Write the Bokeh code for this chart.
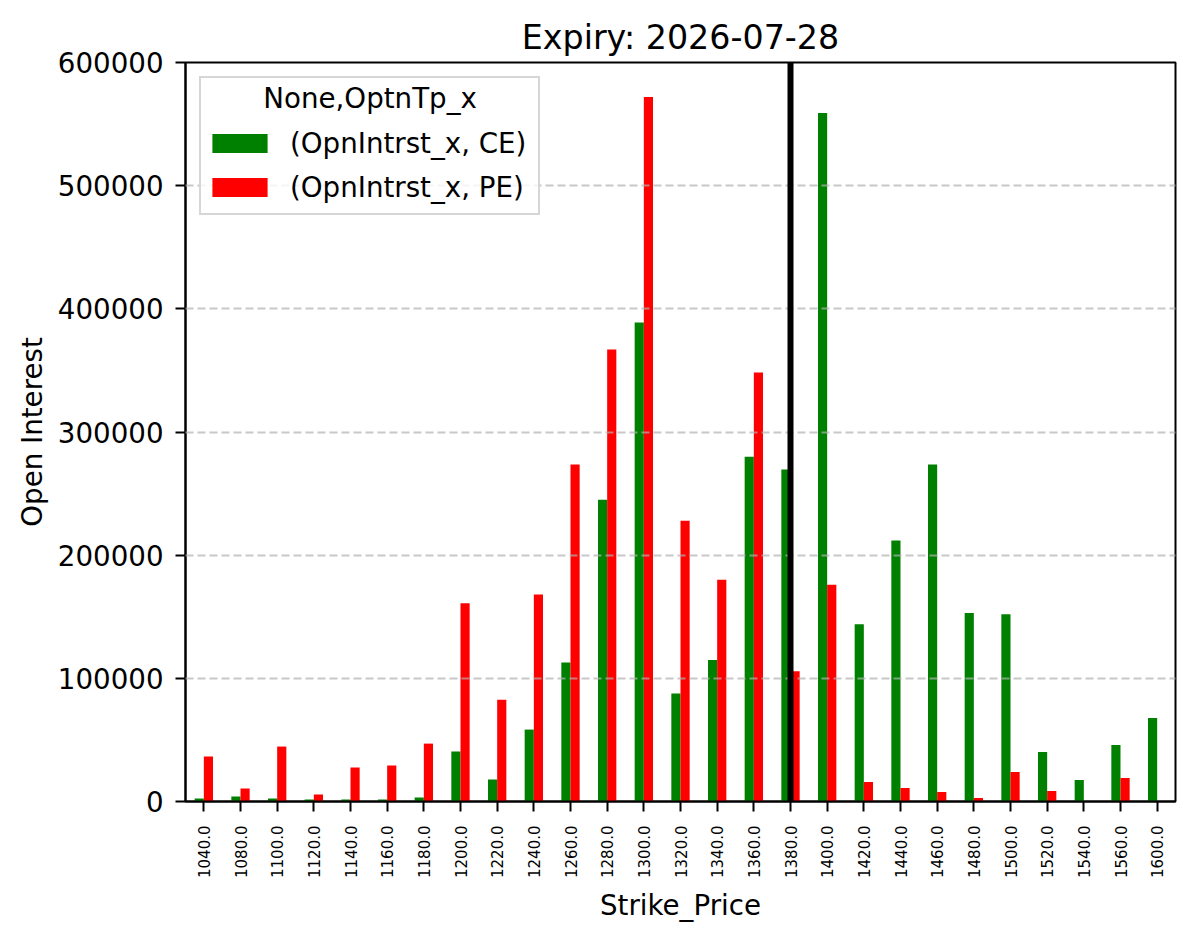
import math

from bokeh.plotting import figure
from bokeh.models import (ColumnDataSource, FactorRange, Range1d, FixedTicker,
                          BasicTickFormatter, Span)
from bokeh.transform import dodge
from bokeh.embed import file_html
from bokeh.resources import INLINE

# Option-chain open interest by strike
strike_labels = ["1040.0", "1080.0", "1100.0", "1120.0", "1140.0", "1160.0",
                 "1180.0", "1200.0", "1220.0", "1240.0", "1260.0", "1280.0",
                 "1300.0", "1320.0", "1340.0", "1360.0", "1380.0", "1400.0",
                 "1420.0", "1440.0", "1460.0", "1480.0", "1500.0", "1520.0",
                 "1540.0", "1560.0", "1600.0"]
oi_ce = [2500, 4000, 2500, 1600, 1600, 1600, 3200, 40600, 17900, 58400,
         112800, 245000, 389000, 87600, 114800, 280000, 269500, 559000,
         144000, 212000, 273600, 153000, 152000, 40100, 17400, 45800, 67700]
oi_pe = [36500, 10500, 44600, 5700, 27600, 29200, 47000, 161000, 82700,
         168000, 273600, 367000, 572000, 228000, 180000, 348400, 105800,
         176000, 15800, 11000, 7700, 2800, 24000, 8500, 0, 19000, 0]
y_ticks = [0, 100000, 200000, 300000, 400000, 500000, 600000]
spot_strike = "1380.0"
expiry = "2026-07-28"
legend_heading = "None,OptnTp_x"

FONT = "DejaVu Sans"
BASE = "27.7px"

source = ColumnDataSource(dict(strike=strike_labels, ce=oi_ce, pe=oi_pe))

p = figure(width=1197, height=939,
           x_range=FactorRange(factors=strike_labels),
           y_range=Range1d(0, 600000),
           output_backend="svg", toolbar_location=None,
           min_border_left=185, min_border_right=22,
           min_border_top=62, min_border_bottom=138,
           title=f"Expiry: {expiry}")

p.title.text_font = FONT
p.title.text_font_size = "33.3px"
p.title.text_font_style = "normal"
p.title.text_color = "black"
p.title.align = "center"
p.title.standoff = 12

p.vbar(x=dodge("strike", -0.125, range=p.x_range), top="ce", width=0.25,
       source=source, fill_color="#008000", line_color=None,
       legend_label="(OpnIntrst_x, CE)")
p.vbar(x=dodge("strike", 0.125, range=p.x_range), top="pe", width=0.25,
       source=source, fill_color="#ff0000", line_color=None,
       legend_label="(OpnIntrst_x, PE)")

# spot marker
spot = Span(location=strike_labels.index(spot_strike) + 0.5, dimension="height",
            line_color="black", line_width=6)
p.add_layout(spot)

# axes
ticker = FixedTicker(ticks=y_ticks)
p.yaxis.ticker = ticker
p.yaxis.formatter = BasicTickFormatter(use_scientific=False)
p.yaxis.minor_tick_line_color = None
p.yaxis.axis_label = "Open Interest"
p.xaxis.axis_label = "Strike_Price"
p.xaxis.major_label_orientation = math.pi / 2

for ax in (p.xaxis[0], p.yaxis[0]):
    ax.axis_label_text_font = FONT
    ax.axis_label_text_font_size = BASE
    ax.axis_label_text_font_style = "normal"
    ax.major_label_text_font = FONT
    ax.major_tick_out = 10
    ax.major_tick_in = 0
    ax.major_tick_line_width = 2
    ax.axis_line_width = 2
    ax.major_label_text_color = "black"
    ax.axis_label_text_color = "black"

p.yaxis.major_label_text_font_size = BASE
p.yaxis.major_label_standoff = 12
p.yaxis.axis_label_standoff = 6
p.xaxis.major_label_text_font_size = "15px"
p.xaxis.major_label_standoff = 14
p.xaxis.axis_label_standoff = 8

# grid
p.xgrid.visible = False
p.ygrid.ticker = ticker
p.ygrid.grid_line_color = "#b0b0b0"
p.ygrid.grid_line_alpha = 0.7
p.ygrid.grid_line_dash = "8 4"
p.ygrid.grid_line_width = 2.2
p.ygrid.level = "guide"

p.outline_line_color = "black"
p.outline_line_width = 2
p.outline_line_alpha = 1

# legend; the heading is indented with non-collapsing spaces to sit centred
leg = p.legend[0]
leg.location = "top_left"
leg.margin = 14
leg.padding = 4
leg.spacing = 0
leg.label_height = 44
leg.label_width = 244
leg.glyph_width = 69
leg.glyph_height = 24
leg.label_standoff = 16
leg.label_text_font = FONT
leg.label_text_font_size = BASE
leg.label_text_color = "black"
leg.border_line_color = "#cccccc"
leg.border_line_width = 2
leg.border_line_alpha = 0.8
leg.background_fill_alpha = 0.8
leg.title = "\u00a0" * 6 + "\u2009" + legend_heading
leg.title_text_font = FONT
leg.title_text_font_size = BASE
leg.title_text_color = "black"
leg.title_text_font_style = "normal"
leg.title_standoff = 6

open("out.html", "w").write(file_html(p, INLINE))
